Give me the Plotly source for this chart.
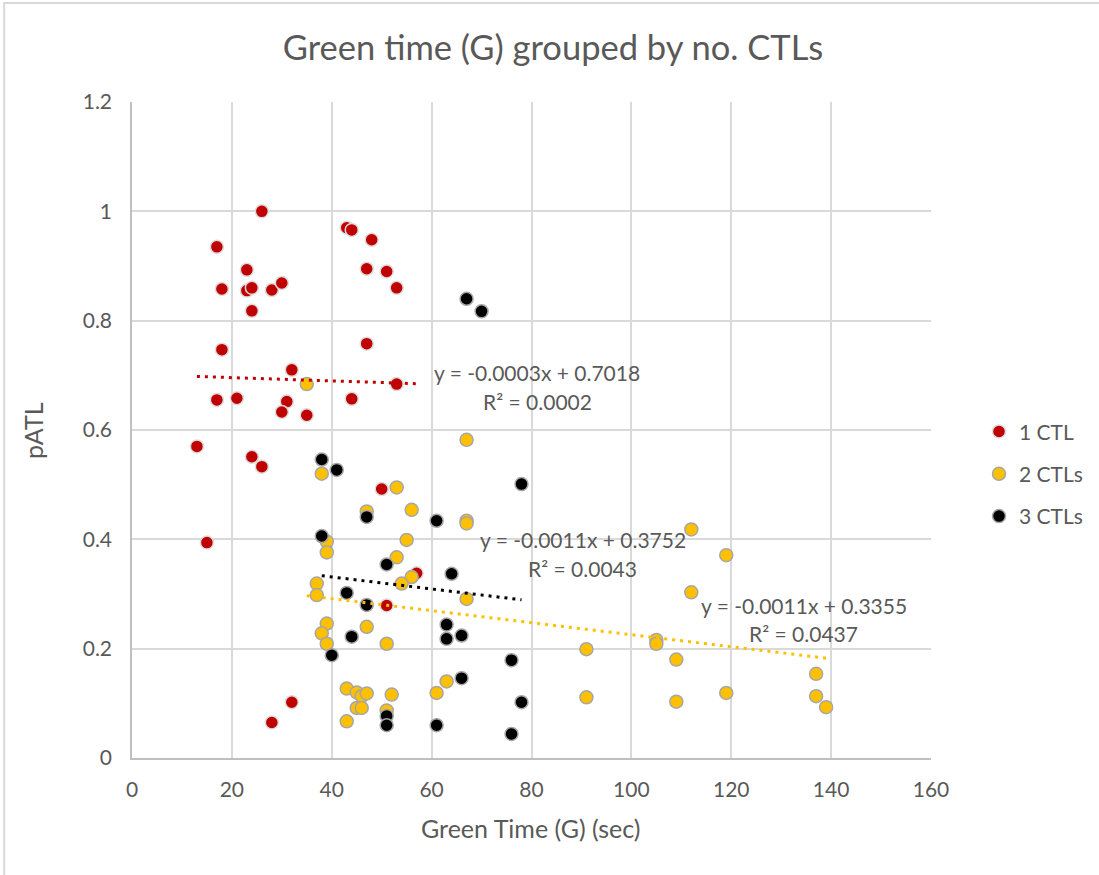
import plotly.graph_objects as go

# ---- data: green time (sec) vs pATL, grouped by number of CTLs ----
red_x = [26, 17, 23, 18, 23, 24, 28, 30, 24, 18, 32, 17, 21, 31, 30, 35, 44, 53,
         43, 44, 48, 47, 51, 53, 47, 13, 24, 26, 15, 50, 57, 51, 32, 28]
red_y = [1.0, 0.935, 0.893, 0.858, 0.855, 0.86, 0.856, 0.869, 0.818, 0.747, 0.71,
         0.655, 0.658, 0.652, 0.633, 0.627, 0.657, 0.684, 0.97, 0.966, 0.948,
         0.895, 0.89, 0.86, 0.758, 0.57, 0.551, 0.533, 0.394, 0.492, 0.338,
         0.279, 0.102, 0.065]

yel_x = [35, 38, 53, 47, 56, 55, 39, 39, 53, 56, 54, 37, 37, 39, 47, 38, 39, 51,
         43, 45, 46, 47, 52, 45, 46, 43, 51, 67, 67, 67, 67, 63, 61, 112, 119,
         112, 91, 105, 105, 109, 91, 109, 119, 137, 137, 139]
yel_y = [0.684, 0.52, 0.495, 0.451, 0.454, 0.399, 0.396, 0.376, 0.367, 0.331,
         0.319, 0.319, 0.298, 0.246, 0.24, 0.228, 0.209, 0.209, 0.127, 0.12,
         0.113, 0.118, 0.116, 0.0915, 0.0915, 0.067, 0.087, 0.582, 0.434, 0.429,
         0.291, 0.14, 0.119, 0.418, 0.371, 0.303, 0.199, 0.216, 0.209, 0.18,
         0.111, 0.103, 0.119, 0.154, 0.113, 0.093]

blk_x = [38, 41, 47, 38, 51, 43, 47, 44, 40, 51, 51, 61, 61, 78, 64, 63, 63, 66,
         76, 66, 78, 76, 67, 70]
blk_y = [0.546, 0.527, 0.441, 0.406, 0.354, 0.302, 0.28, 0.222, 0.188, 0.077,
         0.06, 0.434, 0.06, 0.501, 0.337, 0.244, 0.218, 0.224, 0.179, 0.146,
         0.102, 0.044, 0.84, 0.817]

series_names = ["1 CTL", "2 CTLs", "3 CTLs"]
series_colors = ["#C00000", "#FFC000", "#000000"]
marker_edges = ["#dcdcdc", "#a6a6a6", "#a6a6a6"]

# linear trendline coefficients and fit quality per series
trend_slope = [-0.0003, -0.0011, -0.0011]
trend_intercept = [0.7018, 0.3355, 0.3752]
trend_r2 = [0.0002, 0.0437, 0.0043]

x_ticks = [0, 20, 40, 60, 80, 100, 120, 140, 160]
y_ticks = [0, 0.2, 0.4, 0.6, 0.8, 1, 1.2]

FONT = "Lato, 'Open Sans', sans-serif"
TEXT = "#595959"

xs = [red_x, yel_x, blk_x]
ys = [red_y, yel_y, blk_y]

fig = go.Figure()

for i in range(3):
    fig.add_trace(go.Scatter(
        x=xs[i], y=ys[i], mode="markers", name=series_names[i],
        legendgroup=series_names[i],
        marker=dict(size=13, color=series_colors[i],
                    line=dict(color=marker_edges[i], width=1.5)),
    ))

# dotted trendlines over each series' x extent
for i in range(3):
    x0, x1 = min(xs[i]), max(xs[i])
    fig.add_trace(go.Scatter(
        x=[x0, x1],
        y=[trend_slope[i] * x0 + trend_intercept[i],
           trend_slope[i] * x1 + trend_intercept[i]],
        mode="lines", showlegend=False, hoverinfo="skip",
        line=dict(color=series_colors[i], width=3, dash="3px,5px"),
    ))

# trendline equation labels (centre of each label in data units)
label_pos = [(81.2, 0.706, 0.652), (134.5, 0.279, 0.227), (90.3, 0.3995, 0.346)]
for i in range(3):
    lx, ly1, ly2 = label_pos[i]
    eq = f"y = {trend_slope[i]:.4f}x + {trend_intercept[i]:.4f}"
    r2 = f"R² = {trend_r2[i]:.4f}"
    for txt, ly in ((eq, ly1), (r2, ly2)):
        fig.add_annotation(x=lx, y=ly, xref="x", yref="y", text=txt,
                           showarrow=False, xanchor="center", yanchor="middle",
                           font=dict(family=FONT, size=21, color=TEXT))

# axis titles
fig.add_annotation(x=0.499, y=-0.107, xref="paper", yref="paper",
                   text="Green Time (G) (sec)", showarrow=False,
                   xanchor="center", yanchor="middle",
                   font=dict(family=FONT, size=25, color=TEXT))
fig.add_annotation(x=-0.124, y=0.5, xref="paper", yref="paper",
                   text="pATL", showarrow=False, textangle=-90,
                   xanchor="center", yanchor="middle",
                   font=dict(family=FONT, size=25, color=TEXT))

# outer chart frame
fig.add_shape(type="rect", xref="paper", yref="paper",
              x0=(4 - 132) / 800, x1=(1110 - 132) / 800,
              y0=(758 - 890) / 656, y1=(758 - 3) / 656,
              line=dict(color="#d9d9d9", width=2), fillcolor="rgba(0,0,0,0)",
              layer="below")

fig.update_layout(
    width=1099, height=875,
    margin=dict(l=132, r=167, t=102, b=117),
    paper_bgcolor="white", plot_bgcolor="white",
    title=dict(text="Green time (G) grouped by no. CTLs",
               x=553 / 1099, y=1 - 48 / 875, xanchor="center", yanchor="middle",
               font=dict(family=FONT, size=34.5, color=TEXT)),
    xaxis=dict(range=[0, 160], tickvals=x_ticks, showgrid=True,
               gridcolor="#d9d9d9", gridwidth=1.5, zeroline=False,
               showline=True, linecolor="#bfbfbf", linewidth=1.5,
               ticks="", ticklabelstandoff=12,
               tickfont=dict(family=FONT, size=21, color=TEXT)),
    yaxis=dict(range=[0, 1.2], tickvals=y_ticks, showgrid=True,
               gridcolor="#d9d9d9", gridwidth=1.5, zeroline=False,
               showline=True, linecolor="#bfbfbf", linewidth=1.5,
               ticks="", ticklabelstandoff=14,
               tickfont=dict(family=FONT, size=21, color=TEXT)),
    legend=dict(x=(979 - 132) / 800, y=(758 - 431) / 656 + 0.03,
                xanchor="left", yanchor="top", tracegroupgap=12,
                font=dict(family=FONT, size=21, color=TEXT),
                bgcolor="rgba(0,0,0,0)"),
    showlegend=True,
)

fig.write_html("out.html")
